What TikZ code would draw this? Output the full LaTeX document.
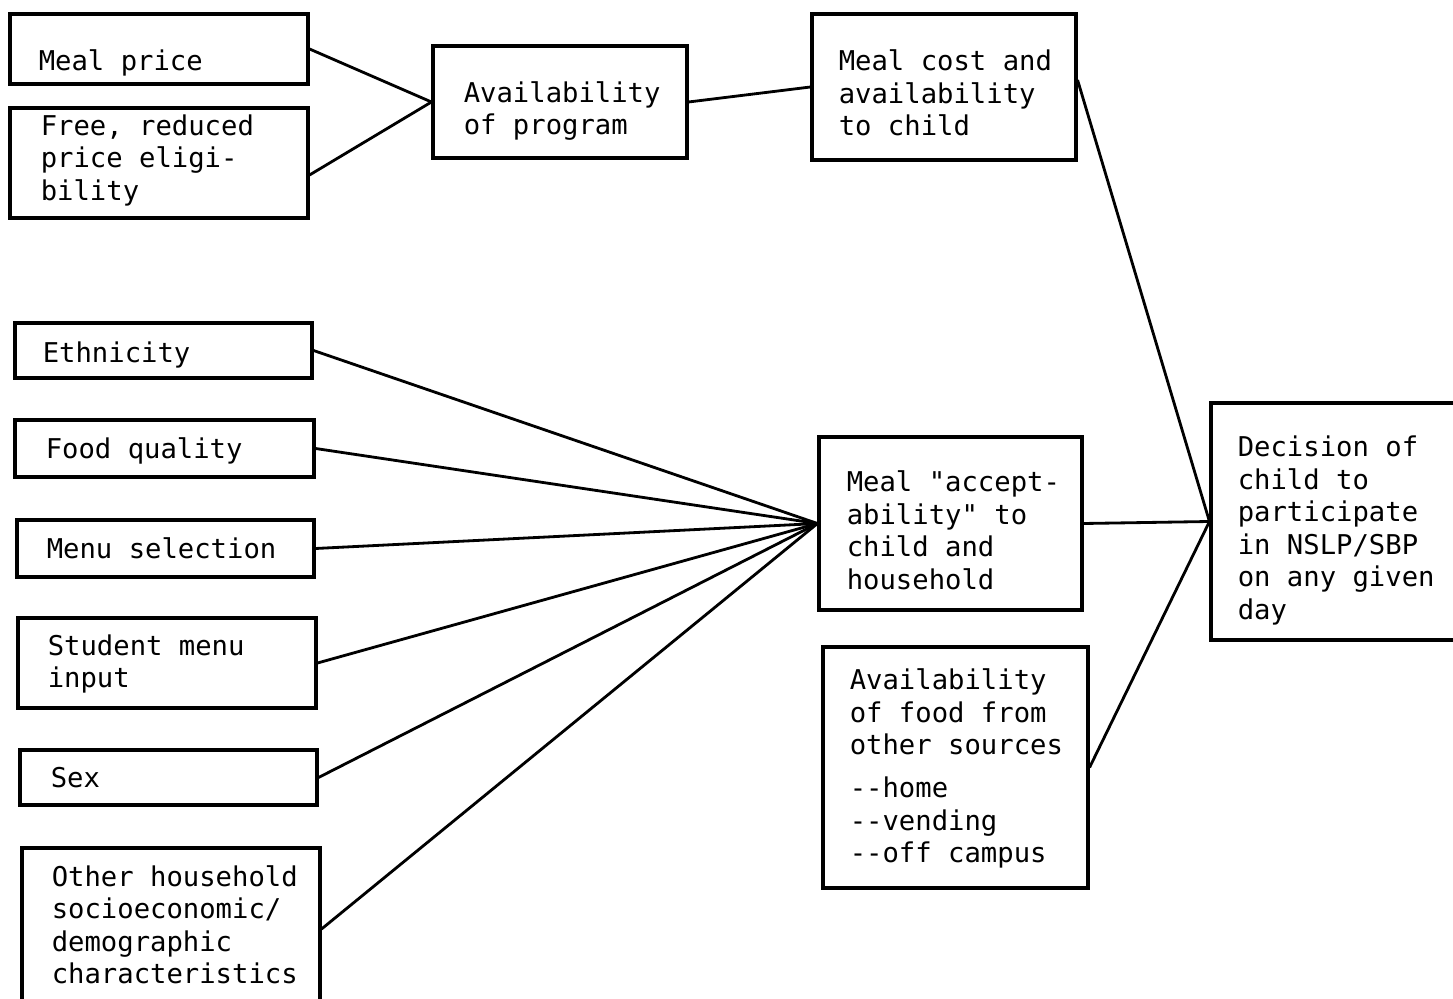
\documentclass[tikz,border=0pt]{standalone}
\usepackage{fontspec}
\setmonofont{DejaVu Sans Mono}
\begin{document}
\begin{tikzpicture}[x=0.02cm,y=-0.02cm,
  box/.style={draw, line width=1.8pt, inner sep=0pt},
  txt/.style={anchor=west, align=left, inner sep=0pt, font=\ttfamily\fontsize{15.5}{18.5}\selectfont},
  link/.style={line width=1.6pt}]
\useasboundingbox (0,0) rectangle (1453,999);
% boxes
\node[box, minimum width=5.96cm, minimum height=1.40cm] (price) at (159,49) {};
\node[box, minimum width=5.96cm, minimum height=2.20cm] (free) at (159,163) {};
\node[box, minimum width=5.08cm, minimum height=2.24cm] (avail) at (560,102) {};
\node[box, minimum width=5.28cm, minimum height=2.92cm] (cost) at (944,87) {};
\node[box, minimum width=5.94cm, minimum height=1.10cm] (eth) at (163.5,350.5) {};
\node[box, minimum width=5.98cm, minimum height=1.14cm] (food) at (164.5,448.5) {};
\node[box, minimum width=5.94cm, minimum height=1.14cm] (menu) at (165.5,548.5) {};
\node[box, minimum width=5.96cm, minimum height=1.80cm] (student) at (167,663) {};
\node[box, minimum width=5.94cm, minimum height=1.10cm] (sex) at (168.5,777.5) {};
\node[box, minimum width=5.96cm, minimum height=3.24cm] (other) at (171,929) {};
\node[box, minimum width=5.26cm, minimum height=3.46cm] (accept) at (950.5,523.5) {};
\node[box, minimum width=5.30cm, minimum height=4.82cm] (sources) at (955.5,767.5) {};
\node[box, minimum width=5.18cm, minimum height=4.74cm] (decision) at (1340.5,521.5) {};
% texts
\node[txt] (tprice) at ([shift={(30,14)}]price.west) {Meal price};
\node[txt] (tfree) at ([shift={(32,-3)}]free.west) {Free, reduced\\price eligi-\\bility};
\node[txt] (tavail) at ([shift={(32,9)}]avail.west) {Availability\\of program};
\node[txt] (tcost) at ([shift={(28,6)}]cost.west) {Meal cost and\\availability\\to child};
\node[txt] (teth) at ([shift={(29,4)}]eth.west) {Ethnicity};
\node[txt] (tfood) at ([shift={(32,2)}]food.west) {Food quality};
\node[txt] (tmenu) at ([shift={(31,0)}]menu.west) {Menu selection};
\node[txt] (tstudent) at ([shift={(31,1)}]student.west) {Student menu\\input};
\node[txt] (tsex) at ([shift={(32,0)}]sex.west) {Sex};
\node[txt] (tother) at ([shift={(31,-4)}]other.west) {Other household\\socioeconomic/\\demographic\\characteristics};
\node[txt] (taccept) at ([shift={(29,7)}]accept.west) {Meal "accept-\\ability" to\\child and\\household};
\node[txt] (tsources) at ([shift={(28,1)}]sources.west) {Availability\\of food from\\other sources\\[6pt]--home\\--vending\\--off campus};
\node[txt] (tdecision) at ([shift={(28,9)}]decision.west) {Decision of\\child to\\participate\\in NSLP/SBP\\on any given\\day};
% connectors
\draw[link] (price.east) -- (avail.west);
\draw[link] ([shift={(0,12)}]free.east) -- (avail.west);
\draw[link] (avail.east) -- (cost.west);
\draw[link] ([shift={(0,-7)}]cost.east) -- (decision.west);
\draw[link] (accept.east) -- (decision.west);
\draw[link] (sources.east) -- (decision.west);
\draw[link] (eth.east) -- (accept.west);
\draw[link] (food.east) -- (accept.west);
\draw[link] (menu.east) -- (accept.west);
\draw[link] (student.east) -- (accept.west);
\draw[link] (sex.east) -- (accept.west);
\draw[link] (other.east) -- (accept.west);
\end{tikzpicture}
\end{document}
